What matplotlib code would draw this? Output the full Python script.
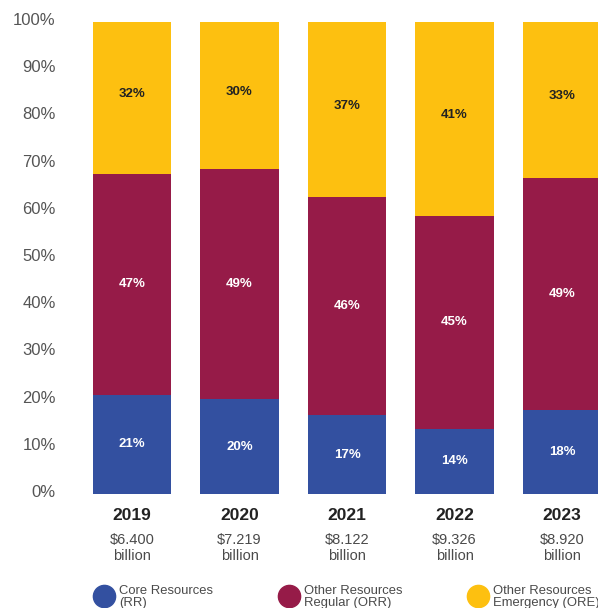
import matplotlib
matplotlib.use("Agg")
import matplotlib.pyplot as plt
from matplotlib.lines import Line2D
from matplotlib.transforms import blended_transform_factory, ScaledTranslation

plt.rcParams["font.family"] = ["Liberation Sans", "DejaVu Sans"]

# Datos
years = ["2019", "2020", "2021", "2022", "2023"]
totals = ["$6.400\nbillion", "$7.219\nbillion", "$8.122\nbillion",
          "$9.326\nbillion", "$8.920\nbillion"]
rr = [21.0, 20.1, 16.7, 13.8, 17.8]
orr = [46.8, 48.8, 46.2, 45.1, 49.1]
ore = [32.2, 31.1, 37.1, 41.1, 33.1]
rr_labels = ["21%", "20%", "17%", "14%", "18%"]
orr_labels = ["47%", "49%", "46%", "45%", "49%"]
ore_labels = ["32%", "30%", "37%", "41%", "33%"]
series = ["Core Resources\n(RR)", "Other Resources\nRegular (ORR)",
          "Other Resources\nEmergency (ORE)"]

BLUE = "#3350a0"
RED = "#961b48"
YELLOW = "#fdc010"
GRAY = "#4a4a4a"

W, H = 598, 608
fig = plt.figure(figsize=(W / 100, H / 100), dpi=100)
ax = fig.add_axes([60 / W, (H - 494) / H, 538 / W, 472 / H])

x = list(range(len(years)))
width = 0.726
bottom2 = [a + b for a, b in zip(rr, orr)]
ax.bar(x, rr, width, color=BLUE)
ax.bar(x, orr, width, bottom=rr, color=RED)
ax.bar(x, ore, width, bottom=bottom2, color=YELLOW)

for i in x:
    ax.text(i, rr[i] / 2, rr_labels[i], ha="center", va="center",
            color="white", fontsize=9.5, fontweight="bold")
    ax.text(i, rr[i] + orr[i] / 2, orr_labels[i], ha="center", va="center",
            color="white", fontsize=9.5, fontweight="bold")
    ax.text(i, bottom2[i] + ore[i] / 2 + 0.8, ore_labels[i], ha="center",
            va="center", color="#222222", fontsize=9.5, fontweight="bold")

ax.set_xlim(-0.67, 4.335)
ax.set_ylim(0, 100)
ax.set_yticks(range(0, 101, 10))
ax.set_yticklabels([f"{v}%" for v in range(0, 101, 10)])
ax.tick_params(axis="y", length=0, pad=3, labelsize=12, labelcolor="#555555")
ax.set_xticks([])
for s in ax.spines.values():
    s.set_visible(False)
# Sobe os rótulos do eixo alguns pixels, como no original
shift = ScaledTranslation(0, 3 / 100, fig.dpi_scale_trans)
for lbl in ax.get_yticklabels():
    lbl.set_transform(lbl.get_transform() + shift)

# Rótulos de ano e total abaixo das barras
tr = blended_transform_factory(ax.transData, fig.transFigure)
for i in x:
    ax.text(i, 1 - 516 / H, years[i], transform=tr, ha="center", va="center",
            fontsize=12.5, fontweight="bold", color="#222222")
    ax.text(i, 1 - 548 / H, totals[i], transform=tr, ha="center",
            va="center", fontsize=10.5, color=GRAY, linespacing=1.2)

# Legenda manual
leg_x = [104, 289, 478]
colors = [BLUE, RED, YELLOW]
for lx, c, name in zip(leg_x, colors, series):
    fig.add_artist(Line2D([lx / W], [1 - 596 / H], marker="o",
                          markersize=16, color=c, linestyle="none",
                          transform=fig.transFigure))
    fig.text((lx + 15) / W, 1 - 597 / H, name, ha="left", va="center",
             fontsize=9.4, color=GRAY, linespacing=0.95)

fig.savefig("out.png", dpi=100)
